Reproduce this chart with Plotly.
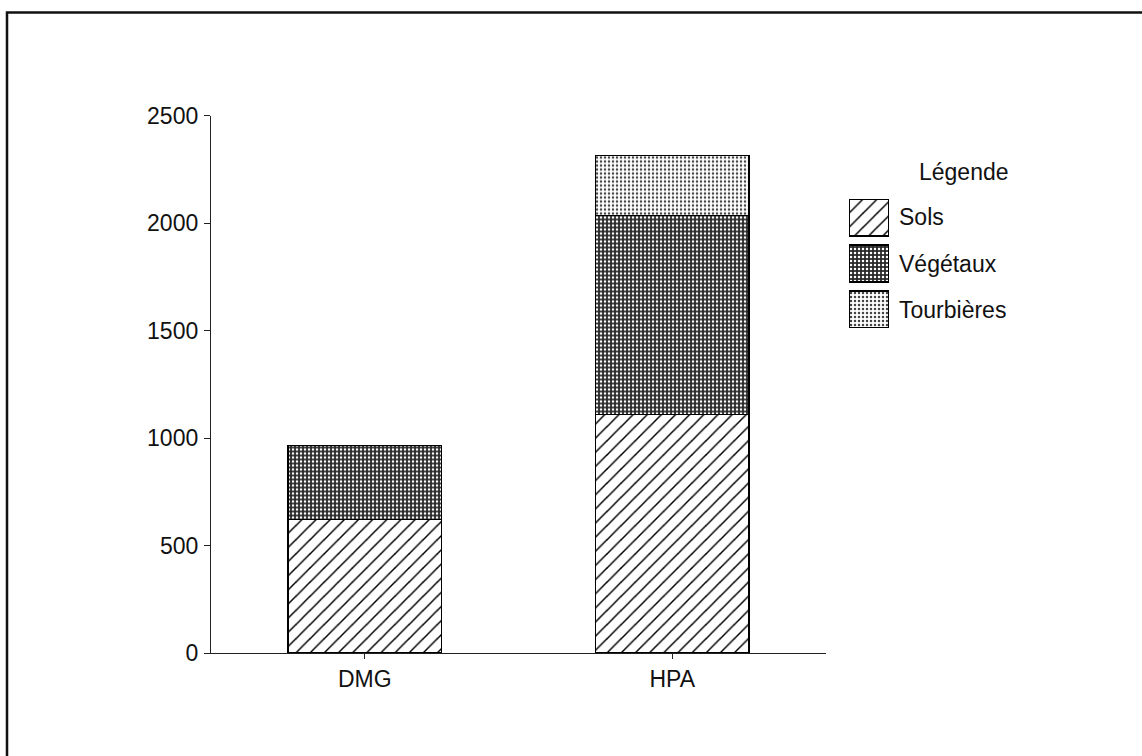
import plotly.graph_objects as go

categories = ["DMG", "HPA"]
sols = [620, 1110]
vegetaux = [345, 925]
tourbieres = [0, 280]
series_names = ["Sols", "Végétaux", "Tourbières"]
y_ticks = [0, 500, 1000, 1500, 2000, 2500]
legend_title = "Légende"

FONT = "Liberation Sans, Arial, Helvetica, sans-serif"
W, H = 1142, 756

patterns = [
    dict(shape="/", fgcolor="black", bgcolor="white", size=10, solidity=0.15, fillmode="replace"),
    dict(shape=".", fgcolor="white", bgcolor="#2a2a2a", size=4, solidity=0.3, fillmode="replace"),
    dict(shape=".", fgcolor="#444444", bgcolor="white", size=4, solidity=0.3, fillmode="replace"),
]
values = [sols, vegetaux, tourbieres]

fig = go.Figure()
for name, vals, pat in zip(series_names, values, patterns):
    fig.add_trace(go.Bar(
        x=categories, y=vals, name=name, width=0.5,
        marker=dict(color="white", pattern=pat, line=dict(color="black", width=1.3)),
        showlegend=False, xaxis="x", yaxis="y",
    ))

# Legend swatches drawn as a tiny bar chart in a side axis
for name, pat in zip(series_names, patterns):
    fig.add_trace(go.Bar(
        x=[1], y=[name], orientation="h", width=0.8,
        marker=dict(color="white", pattern=pat, line=dict(color="black", width=1.3)),
        showlegend=False, xaxis="x2", yaxis="y2", hoverinfo="skip",
    ))

def px_x(p):
    return p / W

def px_y(p):
    return (H - p) / H

fig.update_layout(
    width=W, height=H,
    margin=dict(l=0, r=0, t=0, b=0, autoexpand=False),
    paper_bgcolor="white", plot_bgcolor="white",
    font=dict(family=FONT, size=23, color="#111111"),
    barmode="stack",
    showlegend=False,
    xaxis=dict(
        domain=[px_x(211), px_x(826)], range=[-0.5, 1.5],
        showline=True, linecolor="#222", linewidth=1.3,
        ticks="outside", ticklen=5, tickcolor="#222", tickwidth=1.3,
        showgrid=False, zeroline=False, automargin=False,
        tickfont=dict(size=23), anchor="y",
    ),
    yaxis=dict(
        domain=[px_y(653), px_y(115.5)], range=[0, 2500],
        tickvals=y_ticks, ticktext=[str(v) for v in y_ticks],
        showline=True, linecolor="#222", linewidth=1.3,
        ticks="outside", ticklen=6, tickcolor="#222", tickwidth=1.3,
        showgrid=False, zeroline=False, automargin=False,
        tickfont=dict(size=23), anchor="x", ticklabelstandoff=1,
    ),
    xaxis2=dict(
        domain=[px_x(849), px_x(889)], range=[0, 1], anchor="y2",
        visible=False, fixedrange=True,
    ),
    yaxis2=dict(
        domain=[px_y(328), px_y(199)], range=[2.4, -0.4], anchor="x2",
        side="right", showline=False, ticks="", showgrid=False, zeroline=False,
        tickfont=dict(size=23), ticklabelstandoff=9, automargin=False,
    ),
    annotations=[dict(
        text=legend_title, x=px_x(964), y=px_y(172), xref="paper", yref="paper",
        showarrow=False, xanchor="center", yanchor="middle", font=dict(size=23),
    )],
    shapes=[dict(
        type="rect", xref="paper", yref="paper",
        x0=px_x(7), x1=1.2, y0=-0.2, y1=px_y(12.5),
        line=dict(color="#111", width=2.5), fillcolor="rgba(0,0,0,0)", layer="above",
    )],
)

fig.write_html(
    "out.html",
    config={"displayModeBar": False},
    post_script="document.body.style.margin='0';document.body.style.overflow='hidden';",
)
